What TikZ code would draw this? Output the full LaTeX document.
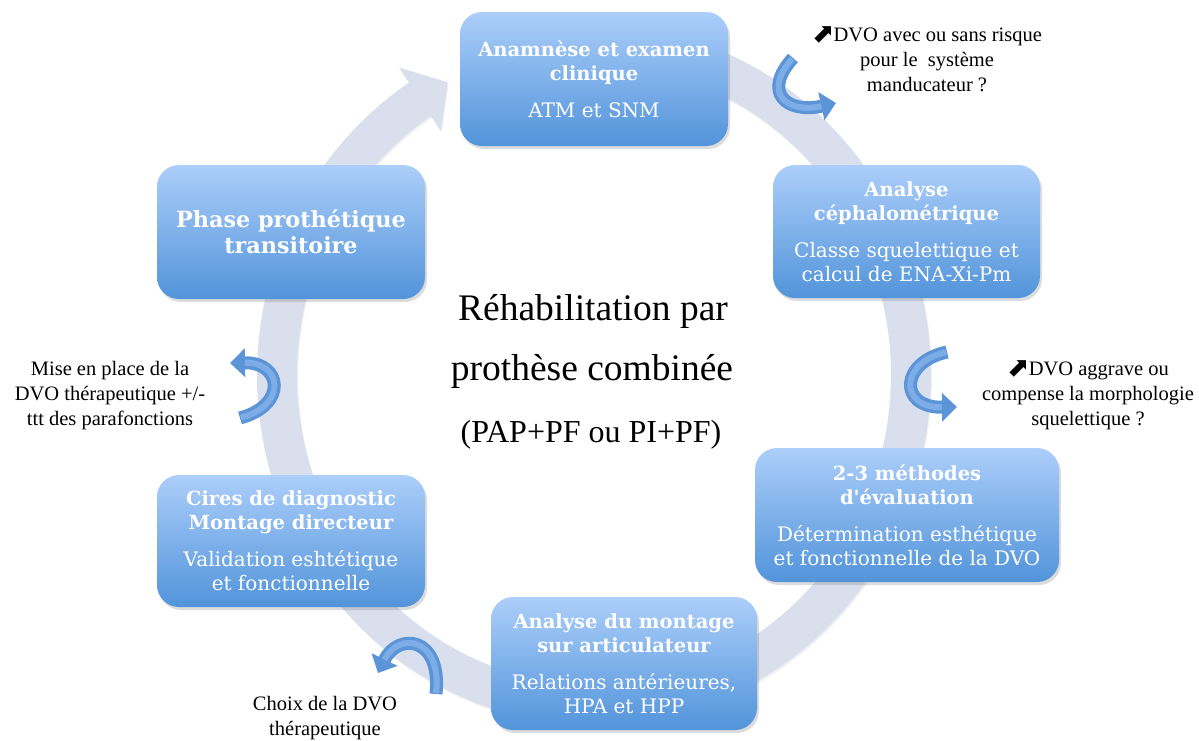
\documentclass[tikz,border=0pt]{standalone}
\usepackage{fontspec}
\setmainfont{Liberation Serif}
\newfontfamily\boxfont{DejaVu Serif}
\newfontfamily\symfont{DejaVu Sans}
\usetikzlibrary{shadows,arrows.meta}
\definecolor{boxtop}{RGB}{172,206,250}
\definecolor{boxbot}{RGB}{82,148,218}
\definecolor{ringcol}{RGB}{218,223,237}
\definecolor{arrowblue}{RGB}{92,148,216}
\definecolor{arrowlight}{RGB}{140,184,236}
\newcommand{\upar}{{\symfont\fontsize{27}{25}\selectfont\raisebox{-1.5pt}{⬈}}\kern-1pt}
\newcommand{\T}{\bfseries\fontsize{19.5}{24}\selectfont}
\tikzset{
  stepbox/.style={rectangle, rounded corners=22pt, top color=boxtop, bottom color=boxbot,
    draw=none, text=white, align=center, inner sep=0pt,
    font=\boxfont\fontsize{20}{24}\selectfont,
    drop shadow={opacity=0.28, shadow xshift=2pt, shadow yshift=-3pt}},
  note/.style={align=center, font=\fontsize{20.5}{25}\selectfont, text=black},
  centre/.style={anchor=base, text=black},
  smallarrow/.style={line width=13pt, draw=arrowblue, -{Triangle[width=28pt,length=15pt]}},
  ribbonhi/.style={line width=6pt, draw=arrowlight, opacity=0.7, shorten >=15pt, shorten <=1pt}
}
\begin{document}
\begin{tikzpicture}[x=1pt,y=-1pt]
\useasboundingbox (0,0) rectangle (1199,740);
% ring arrow
\fill[ringcol, drop shadow={opacity=0.12, shadow xshift=1pt, shadow yshift=-2pt}]
  plot[domain=-85:236.7, samples=160] ({594+337*cos(\x)},{375+350*sin(\x)})
  -- ({594+355*cos(236.7)},{375+368*sin(236.7)})
  -- ({594+317*cos(242.5)},{375+330*sin(242.5)})
  -- ({594+279*cos(236.7)},{375+292*sin(236.7)})
  -- plot[domain=0:321.7, samples=160] ({594+297*cos(236.7-\x)},{375+310*sin(236.7-\x)})
  -- cycle;
% boxes
\node[stepbox, minimum width=268pt, minimum height=134pt] (n1) at (594,79)
  {\T Anamnèse et examen\\\T clinique\\[13pt]ATM et SNM};
\node[stepbox, minimum width=267pt, minimum height=133pt] (n2) at (906.5,231.5)
  {\T Analyse\\\T céphalométrique\\[13pt]Classe squelettique et\\calcul de ENA-Xi-Pm};
\node[stepbox, minimum width=304pt, minimum height=134pt] (n3) at (907,515)
  {\T 2-3 méthodes\\\T d'évaluation\\[13pt]Détermination esthétique\\et fonctionnelle de la DVO};
\node[stepbox, minimum width=266pt, minimum height=133pt] (n4) at (624,663.5)
  {\T Analyse du montage\\\T sur articulateur\\[13pt]Relations antérieures,\\HPA et HPP};
\node[stepbox, minimum width=268pt, minimum height=132pt] (n5) at (291,541)
  {\T Cires de diagnostic\\\T Montage directeur\\[13pt]Validation eshtétique\\et fonctionnelle};
\node[stepbox, minimum width=268pt, minimum height=134pt, font=\boxfont\bfseries\fontsize{22.3}{26}\selectfont] (n6) at (291,232)
  {Phase prothétique\\transitoire};
% centre text
\node[centre, font=\fontsize{37.5}{40}\selectfont] (c1) at (593,320) {Réhabilitation par};
\node[centre, font=\fontsize{37.5}{40}\selectfont] (c2) at (592,380) {prothèse combinée};
\node[centre, font=\fontsize{32}{36}\selectfont] (c3) at (591,442) {(PAP+PF ou PI+PF)};
% notes
\node[note] (t1) at (927,59) {\upar DVO avec ou sans risque\\pour le~ système\\manducateur ?};
\node[note] (t2) at (1088,395) {\upar DVO aggrave ou\\compense la morphologie\\squelettique ?};
\node[note] (t3) at (110,396) {Mise en place de la\\DVO thérapeutique +/-\\ttt des parafonctions};
\node[note] (t4) at (325,718) {Choix de la DVO\\thérapeutique};
% small curved arrows
\coordinate (a1s) at (793,58);  \coordinate (a1e) at (836,103);
\draw[smallarrow] (a1s) .. controls (762,92) and (786,114) .. (a1e);
\draw[ribbonhi] (a1s) .. controls (762,92) and (786,114) .. (a1e);
\coordinate (a2s) at (947,352); \coordinate (a2e) at (957,407);
\draw[smallarrow] (a2s) .. controls (900,362) and (898,408) .. (a2e);
\draw[ribbonhi] (a2s) .. controls (900,362) and (898,408) .. (a2e);
\coordinate (a3s) at (240,418); \coordinate (a3e) at (230,363);
\draw[smallarrow] (a3s) .. controls (288,405) and (282,362) .. (a3e);
\draw[ribbonhi] (a3s) .. controls (288,405) and (282,362) .. (a3e);
\coordinate (a4s) at (436,694); \coordinate (a4e) at (378,673);
\draw[smallarrow] (a4s) .. controls (442,636) and (398,632) .. (a4e);
\draw[ribbonhi] (a4s) .. controls (442,636) and (398,632) .. (a4e);
\end{tikzpicture}
\end{document}
